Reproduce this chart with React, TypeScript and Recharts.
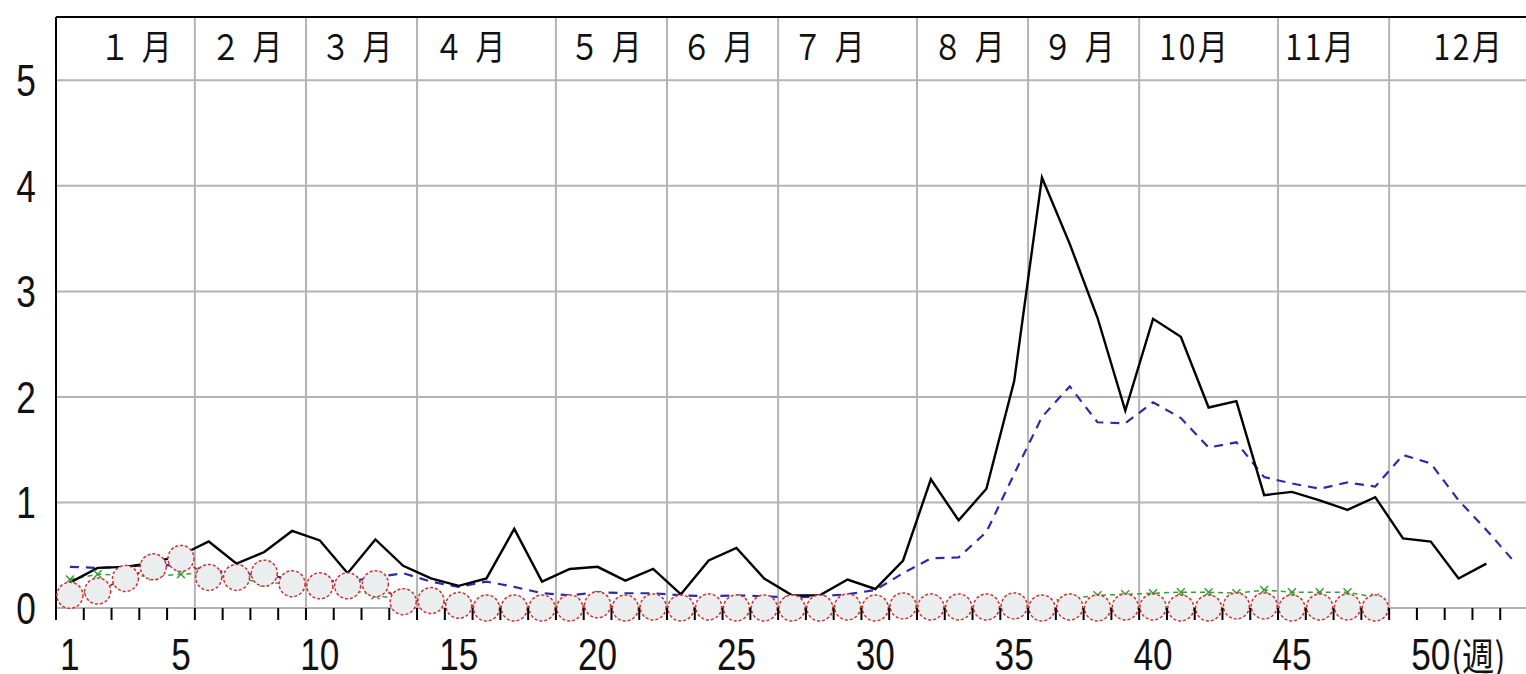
import React from 'react';
import { LineChart, Line, XAxis, YAxis, CartesianGrid } from 'recharts';

// ---- data ----
const WEEKS = [
  1, 2, 3, 4, 5, 6, 7, 8, 9, 10, 11, 12, 13, 14, 15, 16, 17, 18, 19, 20,
  21, 22, 23, 24, 25, 26, 27, 28, 29, 30, 31, 32, 33, 34, 35, 36, 37, 38, 39, 40,
  41, 42, 43, 44, 45, 46, 47, 48, 49, 50, 51, 52, 53,
];

// black solid line
const SERIES_CURRENT = [
  0.24, 0.38, 0.39, 0.43, 0.5, 0.63, 0.42, 0.53, 0.73, 0.64,
  0.33, 0.65, 0.4, 0.28, 0.21, 0.28, 0.75, 0.25, 0.37, 0.39,
  0.26, 0.37, 0.13, 0.45, 0.57, 0.28, 0.12, 0.12, 0.27, 0.18,
  0.45, 1.22, 0.83, 1.13, 2.15, 4.08, 3.45, 2.75, 1.87, 2.74,
  2.57, 1.9, 1.96, 1.07, 1.1, 1.02, 0.93, 1.05, 0.66, 0.63,
  0.28, 0.42,
];

// blue dashed line
const SERIES_PREVIOUS = [
  0.39, 0.38, 0.39, 0.41, 0.4, 0.36, 0.33, 0.31, 0.28, 0.26,
  0.25, 0.29, 0.33, 0.25, 0.2, 0.25, 0.2, 0.14, 0.12, 0.15,
  0.14, 0.14, 0.12, 0.11, 0.12, 0.11, 0.1, 0.11, 0.13, 0.17,
  0.33, 0.47, 0.48, 0.72, 1.27, 1.81, 2.1, 1.76, 1.75, 1.95,
  1.8, 1.52, 1.57, 1.24, 1.18, 1.13, 1.19, 1.15, 1.45, 1.37,
  1.02, 0.74, 0.44,
];

// red circles
const SERIES_RED = [
  0.12, 0.16, 0.28, 0.39, 0.47, 0.29, 0.29, 0.33, 0.23, 0.21,
  0.21, 0.23, 0.06, 0.07, 0.025, 0.0, 0.0, 0.0, 0.0, 0.03,
  0.0, 0.01, 0.0, 0.01, 0.0, 0.0, 0.0, 0.0, 0.01, 0.0,
  0.02, 0.01, 0.01, 0.01, 0.02, 0.0, 0.01, 0.0, 0.01, 0.01,
  0.0, 0.0, 0.02, 0.02, 0.0, 0.01, 0.01, 0.0,
];

// green dashed line with crosses
const SERIES_GREEN = [
  0.27, 0.32, 0.31, 0.3, 0.32, 0.33, 0.28, 0.24, 0.23, 0.2,
  0.18, 0.12, 0.08, 0.05, 0.03, 0.02, 0.02, 0.01, 0.02, 0.02,
  0.01, 0.02, 0.01, 0.01, 0.02, 0.01, 0.01, 0.02, 0.01, 0.02,
  0.02, 0.02, 0.02, 0.02, 0.03, 0.06, 0.09, 0.12, 0.13, 0.14,
  0.15, 0.15, 0.14, 0.17, 0.15, 0.15, 0.15, 0.1,
];

const WEEK_LABELS = [1, 5, 10, 15, 20, 25, 30, 35, 40, 45, 50];
const WEEK_UNIT = '(週)';
const Y_TICKS = [0, 1, 2, 3, 4, 5];
const MONTH_LABELS = ['１ 月', '２ 月', '３ 月', '４ 月', '５ 月', '６ 月', '７ 月', '８ 月', '９ 月', '10月', '11月', '12月'];
const MONTH_LABEL_POS = [3.42, 7.41, 11.37, 15.44, 20.34, 24.37, 28.37, 33.41, 37.37, 41.51, 46.05, 51.38];
const MONTH_BOUNDS = [5.5, 9.5, 13.5, 18.5, 22.5, 26.5, 31.5, 35.5, 39.5, 44.5, 48.5];
const WEEK_BOUNDS = [0.5, ...WEEKS.map((w) => w + 0.5)];
const BOTTOM_TICKS = [...WEEK_BOUNDS, ...WEEK_LABELS].sort((a, b) => a - b);

const data = WEEKS.map((week, i) => ({
  week,
  current: SERIES_CURRENT[i] ?? null,
  previous: SERIES_PREVIOUS[i] ?? null,
  red: SERIES_RED[i] ?? null,
  green: SERIES_GREEN[i] ?? null,
}));

const DOMAIN: [number, number] = [0.5, 53.5];
const NUM_FONT = "'Liberation Sans', Arial, sans-serif";
const JP_FONT = "'Noto Sans CJK JP', 'Noto Sans CJK SC', sans-serif";

function YTick(props: any) {
  const { x, y, payload } = props;
  return (
    <g transform={`translate(${x - 30},${y + 16})`}>
      <text transform="scale(0.8,1)" textAnchor="middle" fontFamily={NUM_FONT} fontSize={44} fill="#111">
        {payload.value}
      </text>
    </g>
  );
}

// bottom axis: week-boundary tick marks + week number labels
function WeekTick(props: any) {
  const { x, y, payload } = props;
  const v = payload.value;
  if (!Number.isInteger(v)) {
    return <line x1={x} x2={x} y1={y} y2={y + 12} stroke="#000" strokeWidth={2} />;
  }
  return (
    <g transform={`translate(${x},${y + 62})`}>
      <text transform="scale(0.8,1)" textAnchor="middle" fontFamily={NUM_FONT} fontSize={44} fill="#111">
        {v}
      </text>
      {v === WEEK_LABELS[WEEK_LABELS.length - 1] ? (
        <text x={24} transform="scale(0.85,1)" textAnchor="start" fontFamily={JP_FONT} fontSize={38} fill="#111">
          {WEEK_UNIT}
        </text>
      ) : null}
    </g>
  );
}

function MonthTick(props: any) {
  const { x, y, payload } = props;
  const idx = MONTH_LABEL_POS.indexOf(payload.value);
  return (
    <g transform={`translate(${x},${y + 43})`}>
      <text transform="scale(0.88,1.05)" textAnchor="middle" fontFamily={JP_FONT} fontSize={34} letterSpacing={3} fill="#111">
        {MONTH_LABELS[idx]}
      </text>
    </g>
  );
}

function CircleDot(props: any) {
  const { cx, cy, value } = props;
  if (value == null || cx == null || cy == null) return <g />;
  return (
    <circle cx={cx} cy={cy} r={13} fill="#eaeeee" stroke="#d23030" strokeWidth={1.5} strokeDasharray="3 2" />
  );
}

function CrossDot(props: any) {
  const { cx, cy, value } = props;
  if (value == null || cx == null || cy == null) return <g />;
  const s = 4;
  return (
    <g stroke="#35a035" strokeWidth={1.5}>
      <line x1={cx - s} y1={cy - s} x2={cx + s} y2={cy + s} />
      <line x1={cx - s} y1={cy + s} x2={cx + s} y2={cy - s} />
    </g>
  );
}

function monthLines(props: any) {
  const { xAxis, offset } = props;
  if (xAxis && typeof xAxis.scale === 'function') {
    return MONTH_BOUNDS.map((b) => xAxis.scale(b));
  }
  const span = DOMAIN[1] - DOMAIN[0];
  return MONTH_BOUNDS.map((b) => offset.left + ((b - DOMAIN[0]) / span) * offset.width);
}

export default function App() {
  return (
    <div style={{ position: 'absolute', left: 0, top: 0, width: 1526, height: 674, overflow: 'hidden', background: '#fff' }}>
      <LineChart width={1530} height={674} data={data} margin={{ top: 17, right: 2, bottom: 0, left: 0 }}>
        <XAxis
          xAxisId="w"
          dataKey="week"
          type="number"
          domain={DOMAIN}
          ticks={BOTTOM_TICKS}
          interval={0}
          height={66}
          axisLine={false}
          tickLine={false}
          tickSize={0}
          tickMargin={0}
          tick={<WeekTick />}
        />
        <XAxis
          xAxisId="m"
          dataKey="week"
          type="number"
          orientation="top"
          mirror
          domain={DOMAIN}
          ticks={MONTH_LABEL_POS}
          interval={0}
          axisLine={{ stroke: '#000', strokeWidth: 2 }}
          tickLine={false}
          tickSize={0}
          tickMargin={0}
          tick={<MonthTick />}
        />
        <YAxis
          type="number"
          domain={[0, 5.6]}
          ticks={Y_TICKS}
          interval={0}
          width={56}
          axisLine={{ stroke: '#000', strokeWidth: 2 }}
          tickLine={false}
          tickSize={0}
          tickMargin={0}
          tick={<YTick />}
        />
        <CartesianGrid
          xAxisId="w"
          stroke="#b4b4b4"
          strokeWidth={2}
          verticalCoordinatesGenerator={monthLines}
        />
        <Line
          xAxisId="w"
          dataKey="previous"
          stroke="#2b2ba8"
          strokeWidth={2.2}
          strokeDasharray="9 7"
          dot={false}
          isAnimationActive={false}
        />
        <Line
          xAxisId="w"
          dataKey="green"
          stroke="#35a035"
          strokeWidth={1.5}
          strokeDasharray="5 4"
          dot={<CrossDot />}
          isAnimationActive={false}
        />
        <Line
          xAxisId="w"
          dataKey="current"
          stroke="#000"
          strokeWidth={2.4}
          dot={false}
          isAnimationActive={false}
        />
        <Line
          xAxisId="w"
          dataKey="red"
          stroke="#d02020"
          strokeWidth={2}
          strokeDasharray="4 3"
          dot={<CircleDot />}
          isAnimationActive={false}
        />
      </LineChart>
    </div>
  );
}
